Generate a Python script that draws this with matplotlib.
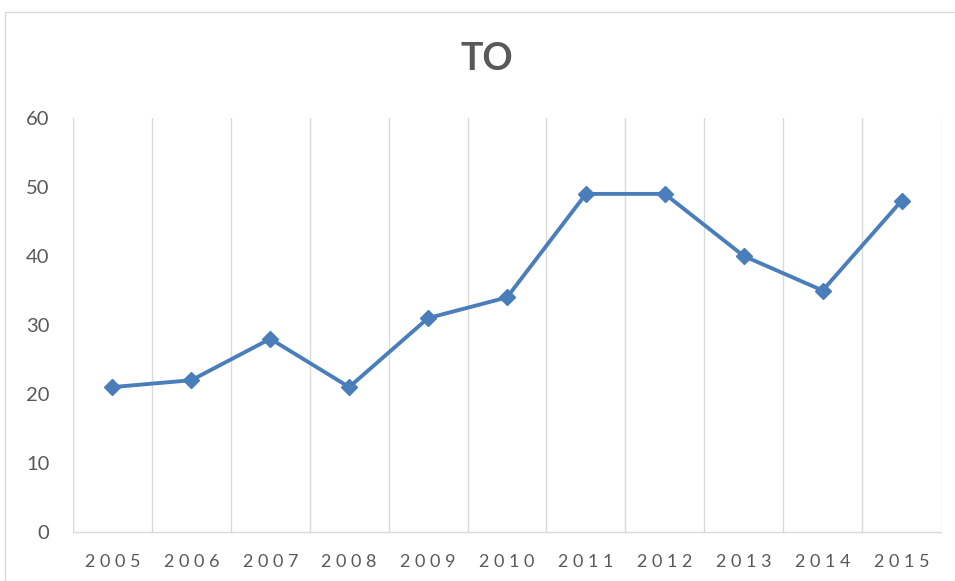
import matplotlib
matplotlib.use("Agg")
import matplotlib.pyplot as plt
from matplotlib.patches import Rectangle

years = ["2005", "2006", "2007", "2008", "2009", "2010", "2011", "2012", "2013", "2014", "2015"]
values = [21, 22, 28, 21, 31, 34, 49, 49, 40, 35, 48]
yticks = [0, 10, 20, 30, 40, 50, 60]
title = "TO"

plt.rcParams['font.family'] = ['Lato', 'DejaVu Sans']

W, H = 955, 581
fig = plt.figure(figsize=(W / 100, H / 100), dpi=100)
fig.patch.set_facecolor("white")

# chart border
fig.add_artist(Rectangle((5 / W, -0.05), (W + 20) / W, (H - 12) / H + 0.05,
                         transform=fig.transFigure, fill=False,
                         edgecolor="#d9d9d9", linewidth=1.0))

ax = fig.add_axes([73 / W, (H - 532) / H, (941 - 73) / W, (532 - 118) / H])
x = list(range(len(years)))
ax.plot(x, values, color="#4a7ebb", linewidth=2.8, marker="D", markersize=8,
        markerfacecolor="#4a7ebb", markeredgecolor="#4a7ebb", zorder=3)

ax.set_xlim(-0.5, len(years) - 0.5)
ax.set_ylim(0, 60)
ax.set_yticks(yticks)
ax.set_yticklabels([str(v) for v in yticks], fontsize=14.5, color="#595959")
ax.set_xticks(x)
ax.set_xticklabels([" ".join(y) for y in years], fontsize=13, color="#595959")
ax.tick_params(axis="both", length=0)
ax.tick_params(axis="y", pad=17)
ax.tick_params(axis="x", pad=16)

for b in [i - 0.5 for i in range(len(years) + 1)]:
    ax.axvline(b, color="#d9d9d9", linewidth=1.0, zorder=1)

for s in ["top", "right", "left"]:
    ax.spines[s].set_visible(False)
ax.spines["bottom"].set_color("#d9d9d9")
ax.spines["bottom"].set_linewidth(1.0)

fig.text(487 / W, 1 - 59 / H, title, ha="center", va="center",
         fontsize=27, fontweight="bold", color="#595959")

fig.savefig("out.png", dpi=100)
